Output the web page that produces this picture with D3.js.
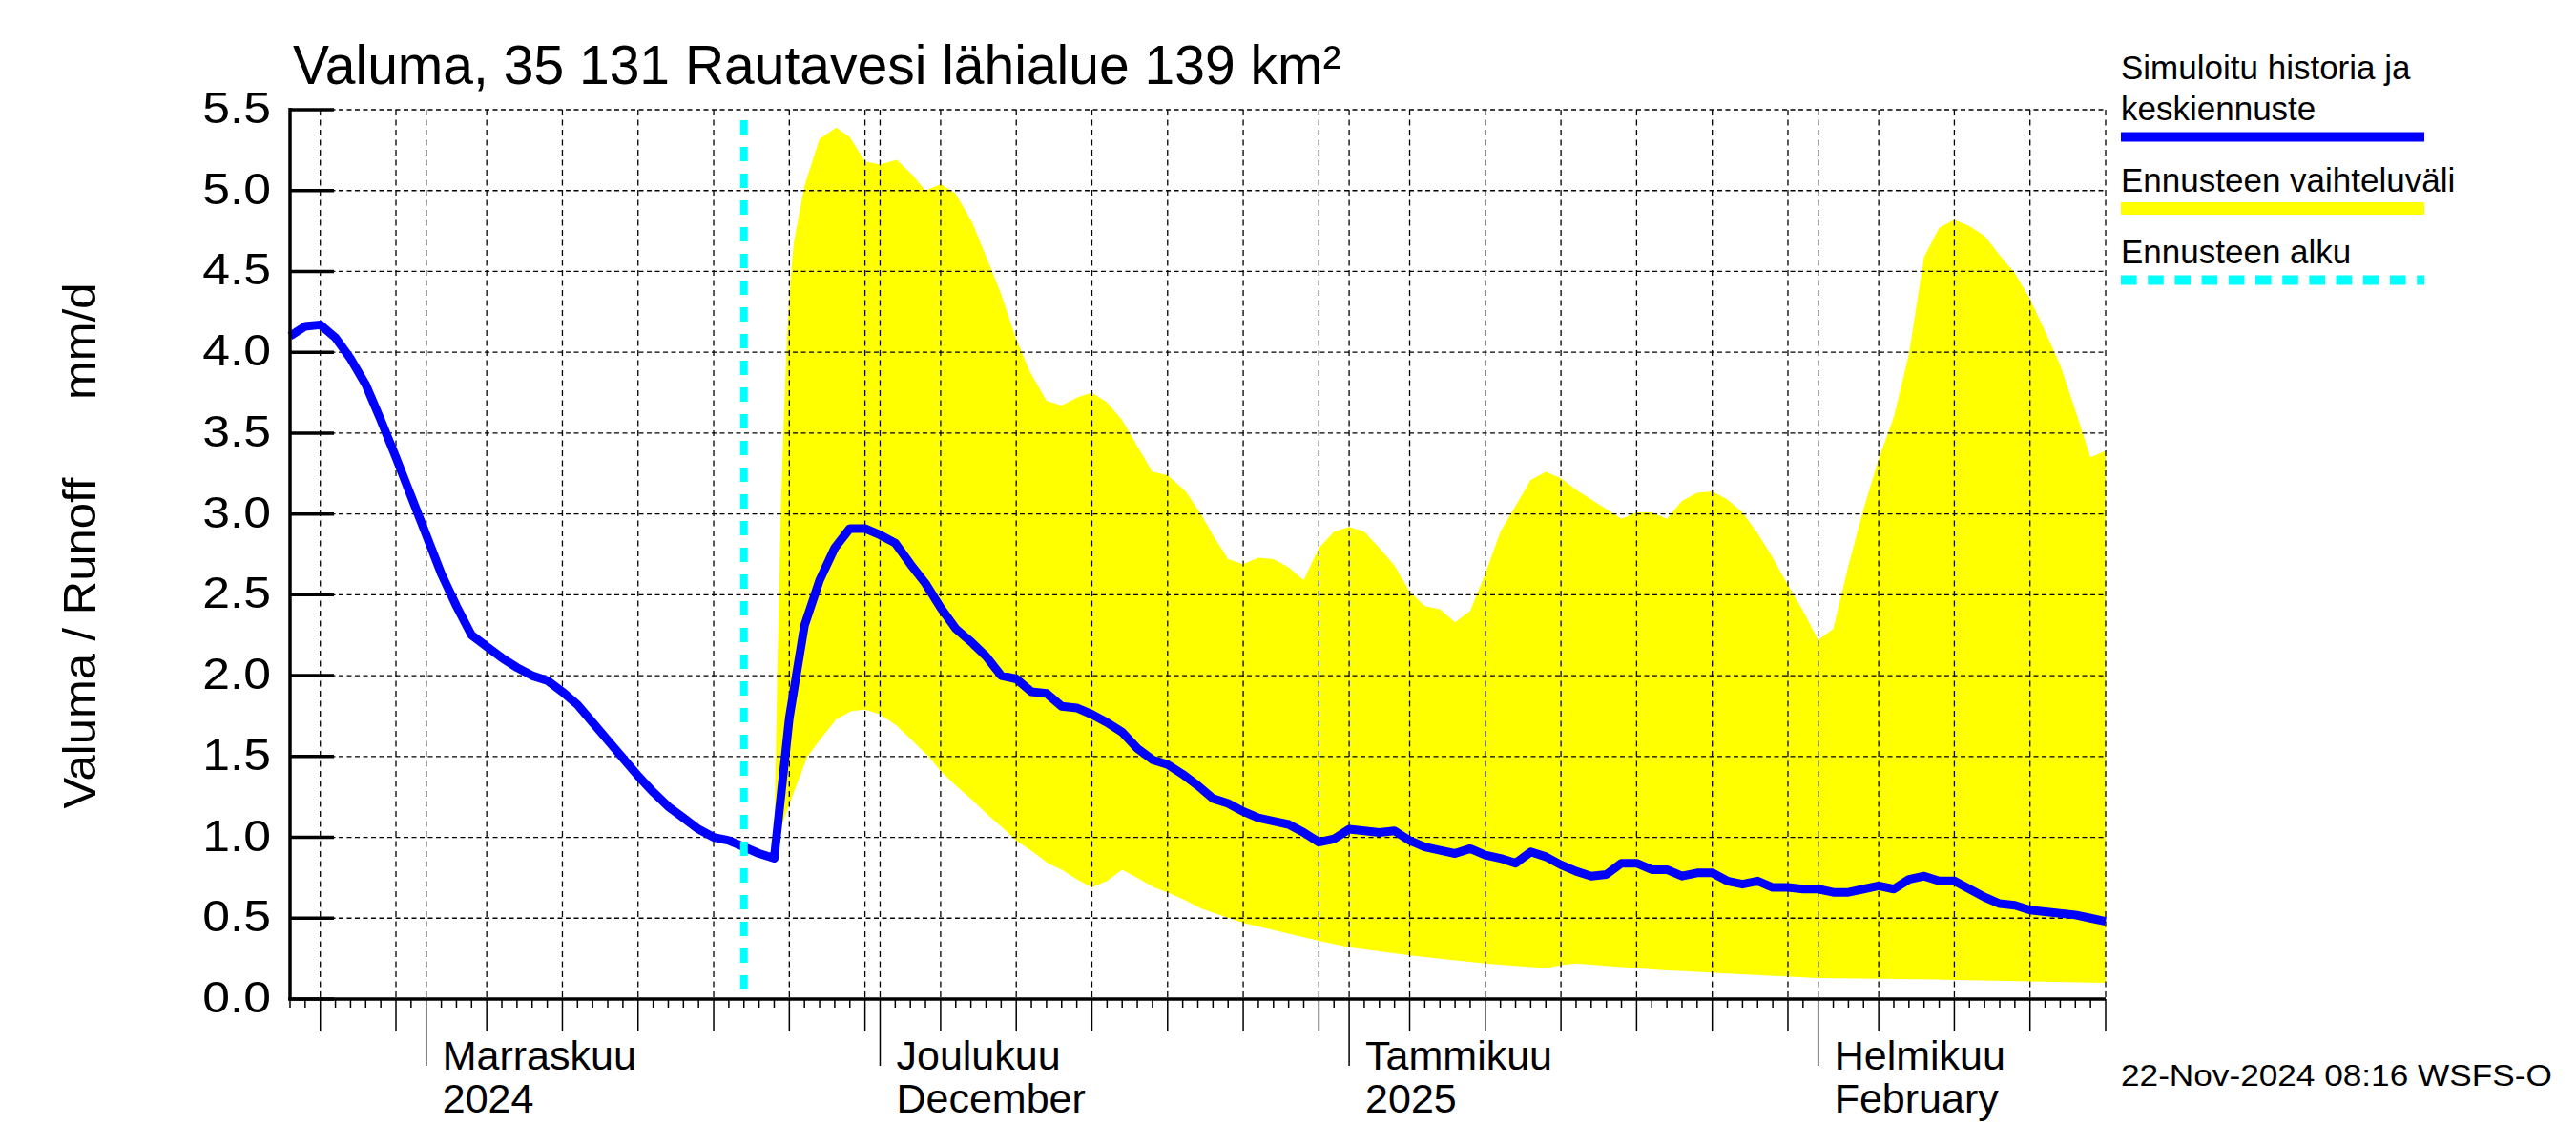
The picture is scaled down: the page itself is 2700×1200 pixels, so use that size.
<!DOCTYPE html>
<html>
<head>
<meta charset="utf-8">
<script src="https://cdn.jsdelivr.net/npm/d3@7"></script>
<style>
  body { margin: 0; background: #fff; }
  text { font-family: "Liberation Sans", Arial, Helvetica, sans-serif; fill: #000; }
</style>
</head>
<body>
<svg id="chart" width="2700" height="1200"></svg>
<script>
// Runoff series, one value per day starting 23 Oct 2024 (mm/d)
const startDate = Date.UTC(2024, 9, 23);
const endDate = Date.UTC(2025, 1, 20);
const forecastStartDay = 30;

const runoff = [
  4.10, 4.16, 4.17, 4.09, 3.96, 3.80, 3.58, 3.35, 3.11, 2.87,
  2.63, 2.43, 2.25, 2.18, 2.11, 2.05, 2.00, 1.97, 1.90, 1.82,
  1.71, 1.60, 1.49, 1.38, 1.28, 1.19, 1.12, 1.05, 1.00, 0.98,
  0.94, 0.90, 0.87, 1.74, 2.31, 2.59, 2.79, 2.91, 2.91, 2.87,
  2.82, 2.69, 2.57, 2.42, 2.29, 2.21, 2.12, 2.00, 1.98, 1.90,
  1.89, 1.81, 1.80, 1.76, 1.71, 1.65, 1.55, 1.48, 1.45, 1.39,
  1.32, 1.24, 1.21, 1.16, 1.12, 1.10, 1.08, 1.03, 0.97, 0.99,
  1.05, 1.04, 1.03, 1.04, 0.98, 0.94, 0.92, 0.90, 0.93, 0.89,
  0.87, 0.84, 0.91, 0.88, 0.83, 0.79, 0.76, 0.77, 0.84, 0.84,
  0.80, 0.80, 0.76, 0.78, 0.78, 0.73, 0.71, 0.73, 0.69, 0.69,
  0.68, 0.68, 0.66, 0.66, 0.68, 0.70, 0.68, 0.74, 0.76, 0.73,
  0.73, 0.68, 0.63, 0.59, 0.58, 0.55, 0.54, 0.53, 0.52, 0.50,
  0.48
];

// forecast range, [day offset, mm/d]
const bandHigh = [
  [32, 0.97], [32.2, 1.99], [32.45, 3.05], [32.65, 3.62], [32.85, 4.11], [33.1, 4.47],
  [33.3, 4.68], [34, 5.03], [35, 5.32], [36.1, 5.39], [37, 5.33], [38, 5.18], [39, 5.16],
  [40.1, 5.19], [41.1, 5.10], [42, 5.00], [43, 5.04], [44, 4.98], [45.1, 4.80], [46.1, 4.57],
  [47, 4.36], [48, 4.08], [48.9, 3.88], [50, 3.70], [51, 3.67], [52, 3.72], [53, 3.75],
  [54, 3.69], [55, 3.58], [56, 3.42], [57, 3.26], [58, 3.24], [59.2, 3.14], [60.2, 3.00],
  [61, 2.87], [62, 2.72], [63, 2.69], [64, 2.73], [65, 2.72], [66, 2.67], [67, 2.59],
  [68, 2.79], [69, 2.89], [70, 2.92], [71, 2.89], [72, 2.79], [73, 2.68], [74, 2.52],
  [75, 2.43], [76, 2.41], [77, 2.33], [78, 2.40], [79, 2.63], [80, 2.89], [81, 3.05],
  [82, 3.21], [83, 3.26], [84, 3.22], [85, 3.15], [86, 3.09], [87, 3.03], [88, 2.97],
  [89, 3.01], [90, 3.01], [91, 2.97], [92, 3.08], [93, 3.13], [94, 3.14], [95, 3.09],
  [96, 3.01], [97, 2.88], [98, 2.73], [99, 2.56], [100, 2.40], [101, 2.22], [102, 2.29],
  [103, 2.68], [104, 3.03], [105, 3.34], [106, 3.60], [107, 3.99], [108, 4.59], [109, 4.77],
  [110, 4.82], [111, 4.78], [112, 4.72], [113, 4.60], [114, 4.49], [115, 4.33], [116, 4.13],
  [117, 3.92], [118, 3.64], [119, 3.35], [120, 3.39]
];

const bandLow = [
  [32, 0.97], [32.5, 1.07], [33.1, 1.23], [34.2, 1.50], [35, 1.60], [36.1, 1.73], [37.1, 1.78],
  [38, 1.79], [39, 1.76], [40.1, 1.69], [41.1, 1.60], [42.2, 1.50], [43, 1.41], [44, 1.32],
  [45.1, 1.23], [46.1, 1.14], [47.2, 1.05], [48, 0.98], [49.1, 0.91], [50.1, 0.84], [51, 0.80],
  [52, 0.74], [53, 0.69], [54, 0.73], [55, 0.80], [56, 0.75], [57.1, 0.69], [58, 0.66],
  [59.2, 0.61], [60.2, 0.56], [63, 0.47], [68, 0.36], [70, 0.32], [74, 0.27], [79, 0.22],
  [83, 0.19], [84, 0.21], [85, 0.22], [89, 0.19], [90.5, 0.18], [94.7, 0.16], [101, 0.13],
  [109.4, 0.12], [120, 0.10]
];

const yTicks = [0, 0.5, 1, 1.5, 2, 2.5, 3, 3.5, 4, 4.5, 5, 5.5];
const monthLabels = [
  { date: Date.UTC(2024, 10, 1), lines: ["Marraskuu", "2024"] },
  { date: Date.UTC(2024, 11, 1), lines: ["Joulukuu", "December"] },
  { date: Date.UTC(2025, 0, 1), lines: ["Tammikuu", "2025"] },
  { date: Date.UTC(2025, 1, 1), lines: ["Helmikuu", "February"] }
];
const gridDays = [1, 5, 10, 15, 20, 25, 30];

const legendItems = [
  { lines: ["Simuloitu historia ja", "keskiennuste"], color: "#0000ff", width: 10, dash: null },
  { lines: ["Ennusteen vaihteluväli"], color: "#ffff00", width: 13, dash: null },
  { lines: ["Ennusteen alku"], color: "#00ffff", width: 10, dash: "16.6,11.6" }
];

const plotLeft = 304, plotRight = 2207, plotTop = 115, plotBottom = 1047;
const dayToDate = d => new Date(startDate + d * 864e5);

const x = d3.scaleUtc().domain([new Date(startDate), new Date(endDate)]).range([plotLeft, plotRight]);
const y = d3.scaleLinear().domain([0, 5.5]).range([plotBottom, plotTop]);

const svg = d3.select("#chart");
svg.append("rect").attr("width", 2700).attr("height", 1200).attr("fill", "#fff");

// Forecast band
const bandPoly = bandHigh.concat(bandLow.slice().reverse());
svg.append("path")
    .attr("d", d3.line().x(d => x(dayToDate(d[0]))).y(d => y(d[1]))(bandPoly) + "Z")
    .attr("fill", "#ffff00")
    .attr("stroke", "none");

// Grid
const allDays = d3.utcDay.range(new Date(startDate), new Date(endDate + 1));
const gridDates = allDays.filter(d => gridDays.includes(d.getUTCDate()));

svg.append("g")
    .selectAll("line")
    .data(gridDates)
    .join("line")
    .attr("x1", d => x(d)).attr("x2", d => x(d))
    .attr("y1", plotTop).attr("y2", plotBottom)
    .attr("stroke", "#000")
    .attr("stroke-width", 1.3)
    .attr("stroke-dasharray", "6,4.5");

svg.append("g")
    .selectAll("line")
    .data(yTicks.filter(v => v > 0))
    .join("line")
    .attr("x1", plotLeft).attr("x2", plotRight)
    .attr("y1", d => y(d)).attr("y2", d => y(d))
    .attr("stroke", "#000")
    .attr("stroke-width", 1.3)
    .attr("stroke-dasharray", "5,3.5");

// Simulated runoff line
svg.append("path")
    .datum(runoff)
    .attr("d", d3.line().x((d, i) => x(dayToDate(i))).y(d => y(d)))
    .attr("fill", "none")
    .attr("stroke", "#0000ff")
    .attr("stroke-width", 9)
    .attr("stroke-linejoin", "round");

// Forecast start
svg.append("line")
    .attr("x1", x(dayToDate(forecastStartDay))).attr("x2", x(dayToDate(forecastStartDay)))
    .attr("y1", plotTop + 11).attr("y2", plotBottom)
    .attr("stroke", "#00ffff")
    .attr("stroke-width", 8)
    .attr("stroke-dasharray", "15,13");

// Axes
svg.append("line")
    .attr("x1", plotLeft).attr("x2", plotLeft).attr("y1", plotTop - 2).attr("y2", plotBottom)
    .attr("stroke", "#000").attr("stroke-width", 3.5);
svg.append("line")
    .attr("x1", plotLeft - 2).attr("x2", plotRight).attr("y1", plotBottom).attr("y2", plotBottom)
    .attr("stroke", "#000").attr("stroke-width", 3.5);

svg.append("g")
    .selectAll("line")
    .data(yTicks)
    .join("line")
    .attr("x1", plotLeft).attr("x2", plotLeft + 46)
    .attr("y1", d => y(d)).attr("y2", d => y(d))
    .attr("stroke", "#000").attr("stroke-width", 3.5);

svg.append("g")
    .selectAll("g")
    .data(yTicks)
    .join("g")
    .attr("transform", d => `translate(284,${y(d) + 14}) scale(1.1,1)`)
    .append("text")
    .attr("text-anchor", "end")
    .style("font-size", "47px")
    .text(d => d.toFixed(1));

// x ticks: daily, every 5 days, month starts
svg.append("g")
    .selectAll("line")
    .data(allDays)
    .join("line")
    .attr("x1", d => x(d)).attr("x2", d => x(d))
    .attr("y1", plotBottom)
    .attr("y2", d => plotBottom + (d.getUTCDate() === 1 ? 70 : gridDays.includes(d.getUTCDate()) ? 34 : 9))
    .attr("stroke", "#000")
    .attr("stroke-width", 1.5);

const months = svg.append("g")
    .selectAll("text")
    .data(monthLabels)
    .join("text")
    .attr("x", d => x(new Date(d.date)) + 17)
    .attr("y", 1121)
    .style("font-size", "43px");
months.selectAll("tspan")
    .data(d => d.lines)
    .join("tspan")
    .attr("x", function() { return d3.select(this.parentNode).attr("x"); })
    .attr("dy", (d, i) => i === 0 ? 0 : 45)
    .text(d => d);

// Title and axis label
svg.append("text")
    .attr("x", 307).attr("y", 88)
    .style("font-size", "57px")
    .text("Valuma, 35 131 Rautavesi lähialue 139 km²");

svg.append("text")
    .attr("transform", `translate(100,572) rotate(-90)`)
    .attr("text-anchor", "middle")
    .style("font-size", "49px")
    .style("white-space", "pre")
    .text("Valuma / Runoff      mm/d");

// Legend
const legendX = 2223, legendW = 318;
let ly = 83;
legendItems.forEach(item => {
    item.lines.forEach((line, i) => {
        svg.append("text")
            .attr("x", legendX).attr("y", ly + i * 43)
            .style("font-size", "35px")
            .text(line);
    });
    const lineY = ly + (item.lines.length - 1) * 43 + 17.5;
    svg.append("line")
        .attr("x1", legendX).attr("x2", legendX + legendW)
        .attr("y1", lineY).attr("y2", lineY)
        .attr("stroke", item.color)
        .attr("stroke-width", item.width)
        .attr("stroke-dasharray", item.dash);
    ly = lineY + 57.5;
});

// Footer
svg.append("g")
    .attr("transform", "translate(2223,1138) scale(1.1,1)")
    .append("text")
    .style("font-size", "32px")
    .text("22-Nov-2024 08:16 WSFS-O");
</script>
</body>
</html>
